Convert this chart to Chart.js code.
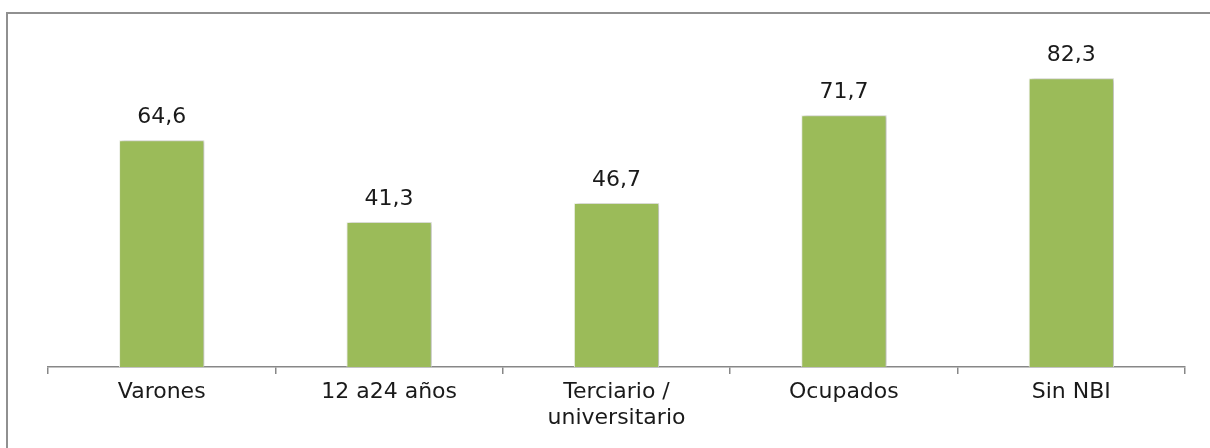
<!DOCTYPE html>
<html>
<head>
<meta charset="utf-8">
<script src="https://cdn.jsdelivr.net/npm/chart.js@4"></script>
<style>
  html, body { margin: 0; padding: 0; background: #fff; overflow: hidden; }
  #wrap { position: relative; width: 1210px; height: 448px; }
  #frame {
    position: absolute; left: 6px; top: 12px; width: 1300px; height: 500px;
    border-top: 2px solid #909090; border-left: 2px solid #909090;
    pointer-events: none;
  }
</style>
</head>
<body>
<div id="wrap">
  <canvas id="chart" width="1210" height="448"></canvas>
  <div id="frame"></div>
</div>
<script>
// --- Data ---
const categories = ['Varones', '12 a24 años', ['Terciario /', 'universitario'], 'Ocupados', 'Sin NBI'];
const values = [64.6, 41.3, 46.7, 71.7, 82.3];

const FONT = "'DejaVu Sans', sans-serif";

// Soft shadow behind bars + value labels on top
const barDecor = {
    id: 'barDecor',
    beforeDatasetsDraw(chart) {
        const c = chart.ctx;
        c.save();
        c.shadowColor = 'rgba(0, 0, 0, 0.28)';
        c.shadowBlur = 4;
        c.shadowOffsetX = 2;
        c.shadowOffsetY = 0;
    },
    afterDatasetsDraw(chart) {
        const c = chart.ctx;
        c.restore();
        c.save();
        c.font = '22px ' + FONT;
        c.fillStyle = '#1a1a1a';
        c.textAlign = 'center';
        c.textBaseline = 'alphabetic';
        chart.getDatasetMeta(0).data.forEach((bar, i) => {
            const txt = values[i].toFixed(1).replace('.', ',');
            c.fillText(txt, bar.x, bar.y - 17);
        });
        c.restore();
    }
};

const ctx = document.getElementById('chart').getContext('2d');
new Chart(ctx, {
    type: 'bar',
    data: {
        labels: categories,
        datasets: [{
            data: values,
            backgroundColor: '#9BBB59',
            borderColor: '#f4f7ee',
            borderWidth: 1,
            barPercentage: 0.375,
            categoryPercentage: 1
        }]
    },
    options: {
        responsive: false,
        animation: false,
        layout: { padding: { left: 48, right: 25, top: 16, bottom: 0 } },
        scales: {
            y: {
                display: false,
                min: 0,
                max: 100
            },
            x: {
                afterFit: (scale) => { scale.height = 81; },
                grid: {
                    offset: true,
                    drawOnChartArea: false,
                    drawTicks: true,
                    tickLength: 7,
                    color: '#878787',
                    lineWidth: 1.5
                },
                border: { color: '#878787', width: 1.5 },
                ticks: {
                    color: '#1a1a1a',
                    padding: 6,
                    maxRotation: 0,
                    autoSkip: false,
                    font: { family: FONT, size: 22, lineHeight: 1.15 }
                }
            }
        },
        plugins: {
            legend: { display: false },
            tooltip: { enabled: false }
        }
    },
    plugins: [barDecor]
});
</script>
</body>
</html>
